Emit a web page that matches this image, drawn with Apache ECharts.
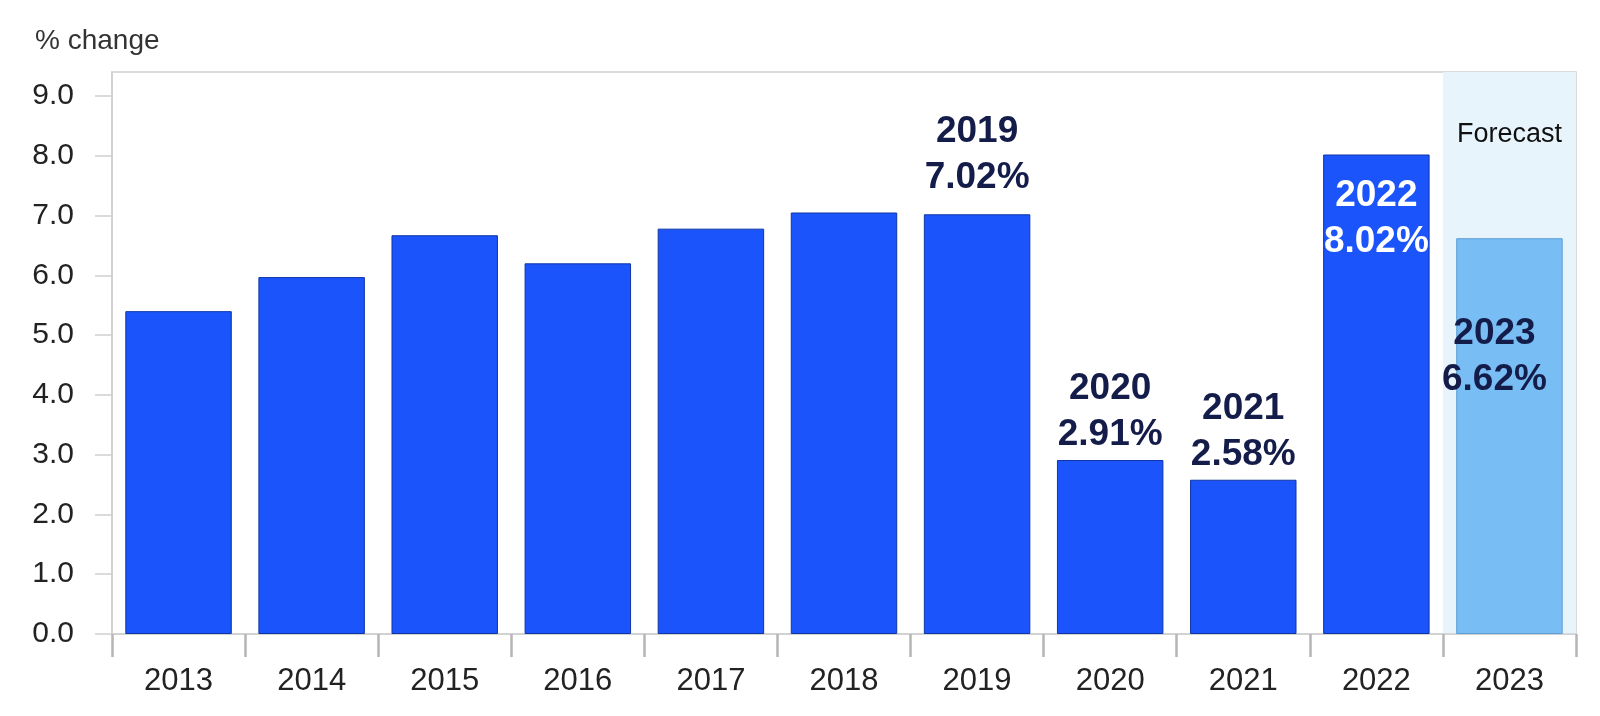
<!DOCTYPE html>
<html>
<head>
<meta charset="utf-8">
<script src="https://cdn.jsdelivr.net/npm/echarts@6/dist/echarts.min.js"></script>
<style>
  html, body { margin: 0; padding: 0; background: #fff; }
  #chart { width: 1600px; height: 716px; }
</style>
</head>
<body>
<div id="chart"></div>
<script>
const years = ['2013', '2014', '2015', '2016', '2017', '2018', '2019', '2020', '2021', '2022', '2023'];
const growth = [5.40, 5.97, 6.67, 6.20, 6.78, 7.05, 7.02, 2.91, 2.58, 8.02, 6.62];
const forecastYears = ['2023'];
const labelledYears = ['2019', '2020', '2021', '2022', '2023'];
const yTicks = [0, 1, 2, 3, 4, 5, 6, 7, 8, 9];
const yMax = 9.4;
const forecastTextLevel = 8.35;

const FONT = '"Liberation Sans", Arial, sans-serif';
const NAVY = '#141c4a';

function labelFor(year) {
    if (!labelledYears.includes(year)) return { show: false };
    const base = {
        show: true,
        fontFamily: FONT,
        fontSize: 37,
        fontWeight: 'bold',
        lineHeight: 46,
        color: NAVY,
        formatter: p => p.name + '\n' + p.value.toFixed(2) + '%'
    };
    if (year === '2022') {
        return Object.assign(base, { position: 'insideTop', distance: 18, color: '#fff' });
    }
    if (forecastYears.includes(year)) {
        return Object.assign(base, { position: 'insideTop', distance: 73, offset: [-15, 0] });
    }
    if (year === '2019') {
        return Object.assign(base, { position: 'top', distance: 13 });
    }
    return Object.assign(base, { position: 'top', distance: 2 });
}

const barData = years.map((y, i) => {
    const forecast = forecastYears.includes(y);
    return {
        name: y,
        value: growth[i],
        itemStyle: forecast
            ? { color: '#78bdf4', borderColor: '#5b9fd6', borderWidth: 1 }
            : { color: '#1b54fb', borderColor: '#0f35a8', borderWidth: 1 },
        label: labelFor(y)
    };
});

const chart = echarts.init(document.getElementById('chart'));
chart.setOption({
    animation: false,
    backgroundColor: '#fff',
    title: {
        text: '% change',
        left: 30,
        top: 22,
        textStyle: { fontFamily: FONT, fontSize: 28, fontWeight: 'normal', color: '#333' }
    },
    grid: {
        left: 112, right: 24, top: 72, bottom: 82,
        show: true, borderColor: '#cfcfcf', borderWidth: 1.5, backgroundColor: 'transparent'
    },
    xAxis: {
        type: 'category',
        data: years,
        z: 5,
        axisLine: { show: true, lineStyle: { color: '#cfcfcf', width: 1.5 } },
        axisTick: { show: true, length: 23, lineStyle: { color: '#b5b5b5', width: 2.5 } },
        axisLabel: { fontFamily: FONT, fontSize: 31, color: '#222', margin: 32 },
        splitArea: {
            show: true,
            areaStyle: {
                color: years.map(y => forecastYears.includes(y) ? '#e8f4fc' : 'rgba(255,255,255,0)')
            }
        }
    },
    yAxis: {
        type: 'value',
        min: 0,
        max: yMax,
        interval: 1,
        axisLine: { show: true, lineStyle: { color: '#cfcfcf', width: 1.5 } },
        axisTick: { show: true, length: 17, customValues: yTicks, lineStyle: { color: '#cfcfcf', width: 1.5 } },
        axisLabel: {
            customValues: yTicks,
            fontFamily: FONT, fontSize: 30, color: '#222', margin: 38,
            formatter: v => v.toFixed(1)
        },
        splitLine: { show: false }
    },
    series: [{
        type: 'bar',
        z: 10,
        data: barData,
        barCategoryGap: '20%',
        markPoint: {
            silent: true,
            symbol: 'circle',
            symbolSize: 1,
            itemStyle: { color: 'rgba(0,0,0,0)' },
            data: forecastYears.map(y => ({
                coord: [y, forecastTextLevel],
                label: {
                    show: true, position: 'inside', formatter: 'Forecast',
                    fontFamily: FONT, fontSize: 27, color: '#111'
                }
            }))
        }
    }]
});
</script>
</body>
</html>
